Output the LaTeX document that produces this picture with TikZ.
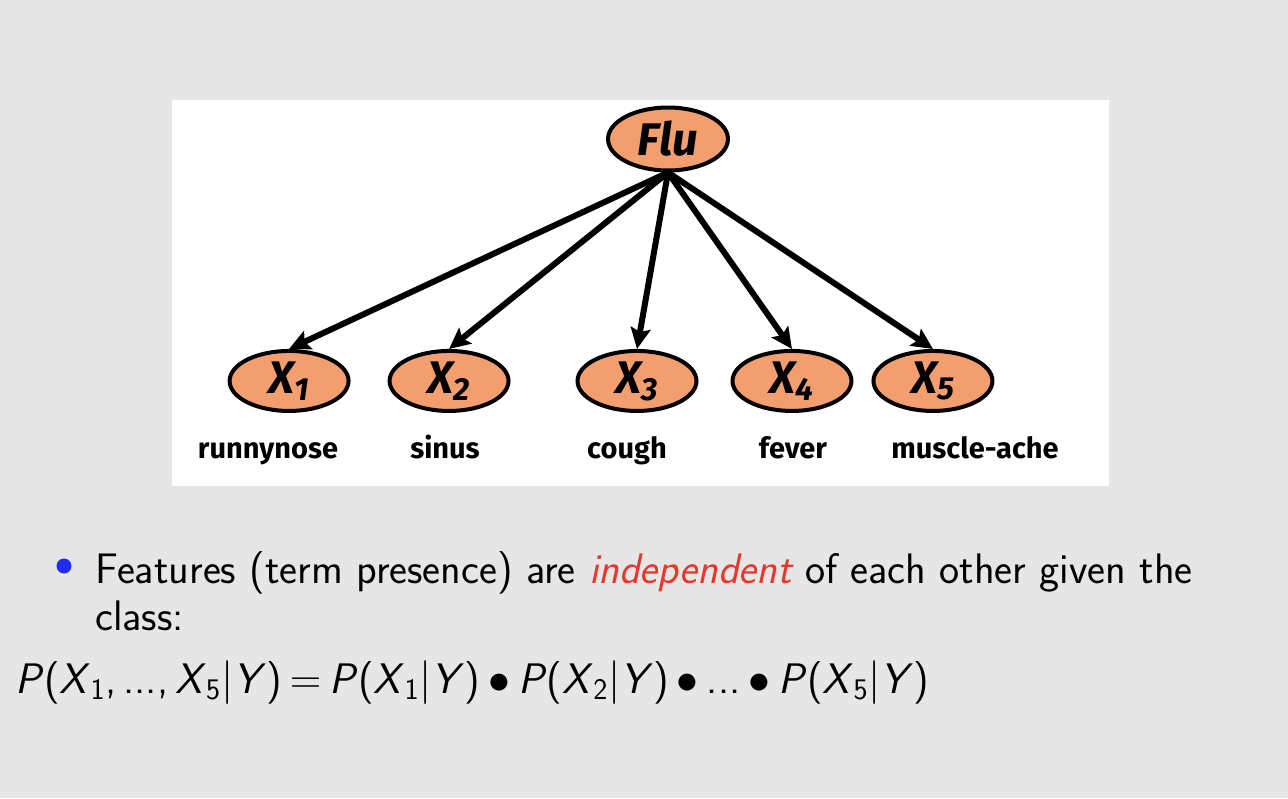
\documentclass[tikz,border=0pt]{standalone}
\usepackage{fontspec}
\usepackage{xcolor}
\usepackage{tikz}
\usetikzlibrary{shapes.geometric}
\usetikzlibrary{arrows.meta}
\newfontfamily\handfont{Fira Sans}
\definecolor{slidegray}{HTML}{E6E6E6}
\definecolor{nodeorange}{HTML}{F29E6E}
\definecolor{alertred}{HTML}{E8372C}
\definecolor{bulletblue}{HTML}{1F2BFF}
\newcommand{\rv}[1]{\textit{#1}}
\newcommand{\opsp}{\hspace{0.19em}}
\tikzset{
    var/.style={ellipse, draw, line width=0.08cm, fill=nodeorange, minimum width=2.38cm,
        minimum height=1.2cm, inner sep=0pt, font=\handfont\bfseries\itshape\fontsize{26}{26}\selectfont},
    feat/.style={anchor=base, font=\handfont\bfseries\fontsize{16.5}{16.5}\selectfont},
    body/.style={anchor=base west, inner sep=0pt, font=\sffamily\fontsize{24.3}{28}\selectfont},
    influence/.style={draw, line width=0.12cm, -{Stealth[length=0.42cm,width=0.4cm,inset=0.08cm]}},
}

\begin{document}
\begin{tikzpicture}[x=0.02cm, y=-0.02cm]
        \useasboundingbox (0,0) rectangle (1288,798);
        \fill[slidegray] (0,0) rectangle (1288,798);
        \fill[white] (172,100) rectangle (1109,486);
        \node [var, minimum width=2.4cm, minimum height=1.26cm] (flu) at (668,139) {Flu}
            [level distance=4.84cm, sibling distance=3.2cm,
             edge from parent/.style={influence},
             edge from parent path={(\tikzparentnode.south) -- (\tikzchildnode.north)}]
            child {node [var, xshift=-1.18cm] (x1) {X\textsubscript{1}}}
            child {node [var, xshift=-1.18cm] (x2) {X\textsubscript{2}}}
            child {node [var, xshift=-0.62cm] (x3) {X\textsubscript{3}}}
            child {node [var, xshift=-0.72cm] (x4) {X\textsubscript{4}}}
            child {node [var, xshift=-1.10cm] (x5) {X\textsubscript{5}}}
        ;
        \node [feat] (l1) at (268,458) {runnynose};
        \node [feat] (l2) at (445,458) {sinus};
        \node [feat] (l3) at (627,458) {cough};
        \node [feat] (l4) at (793,458) {fever};
        \node [feat] (l5) at (975,458) {muscle-ache};
        % bullet point and formula
        \node [circle, fill=bulletblue, minimum size=0.3cm, inner sep=0pt] (dot) at (64,566) {};
        \node [body] (line1) at (95,583) {Features (term presence) are \textcolor{alertred}{\itshape independent} of each other given the};
        \node [body] (line2) at (95,630) {class:};
        \node [body] (eq) at (15,693) {\rv{P}(\rv{X}\textsubscript{1},\,...,\,\rv{X}\textsubscript{5}$|$\rv{Y})\opsp$=$\opsp\rv{P}(\rv{X}\textsubscript{1}$|$\rv{Y})\opsp$\bullet$\opsp\rv{P}(\rv{X}\textsubscript{2}$|$\rv{Y})\opsp$\bullet$\opsp...\opsp$\bullet$\opsp\rv{P}(\rv{X}\textsubscript{5}$|$\rv{Y})};
    \end{tikzpicture}
\end{document}
